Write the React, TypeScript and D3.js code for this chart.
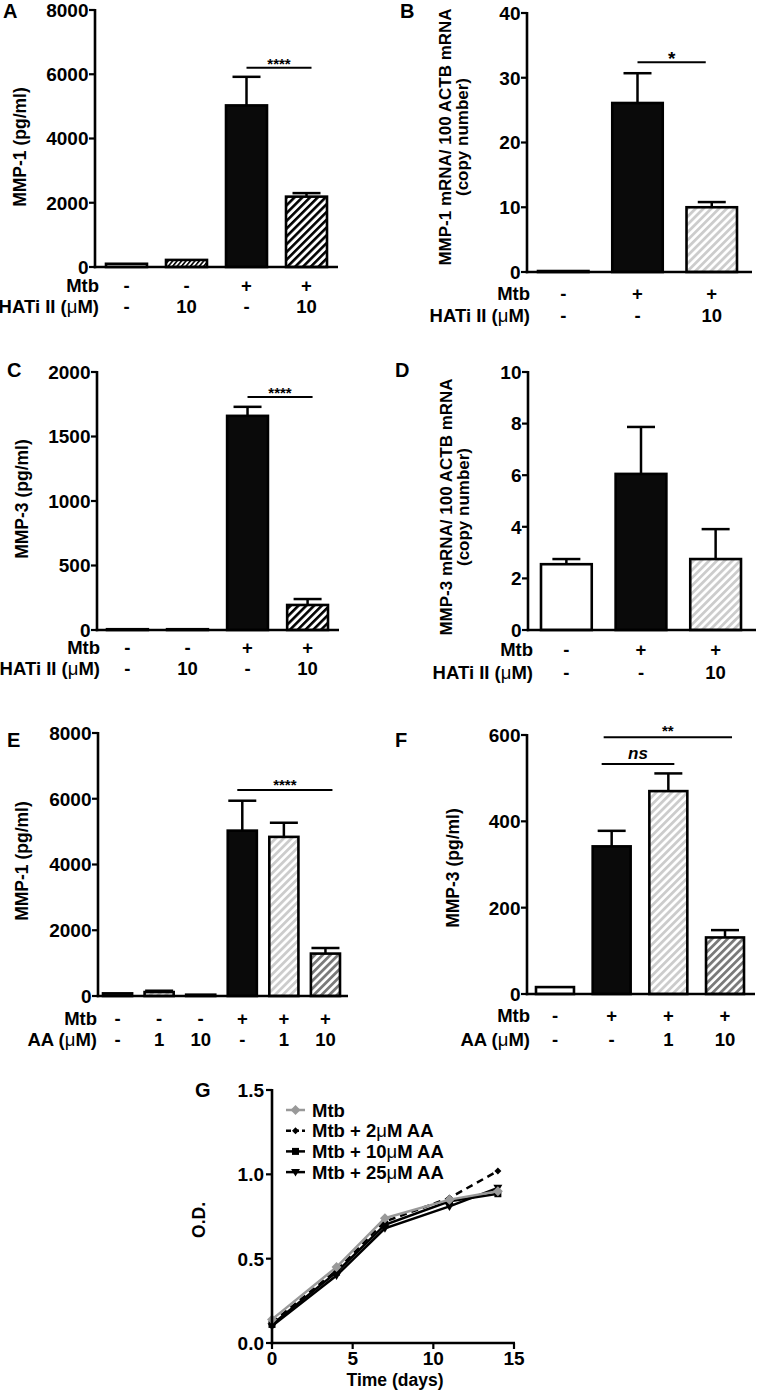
import React from "react";
import * as d3 from "d3";

const FONT = "'Liberation Sans', Arial, Helvetica, sans-serif";

// ---------- DATA ----------
// Panel A: MMP-1 secretion, HATi II
const aValues = [100, 220, 5030, 2190];
const aErrors = [0, 0, 890, 110];
const aFills = ["white", "url(#hatchFine)", "#0a0a0a", "url(#hatchBlack)"];
const aMtb = ["-", "-", "+", "+"];
const aDose = ["-", "10", "-", "10"];
const aTicks = [0, 2000, 4000, 6000, 8000];

// Panel B: MMP-1 mRNA
const bValues = [0.15, 26.1, 10.0];
const bErrors = [0, 4.6, 0.8];
const bFills = ["white", "#0a0a0a", "url(#hatchLight)"];
const bMtb = ["-", "+", "+"];
const bDose = ["-", "-", "10"];
const bTicks = [0, 10, 20, 30, 40];

// Panel C: MMP-3 secretion, HATi II
const cValues = [6, 6, 1660, 194];
const cErrors = [0, 0, 70, 46];
const cFills = ["white", "white", "#0a0a0a", "url(#hatchBlack)"];
const cMtb = ["-", "-", "+", "+"];
const cDose = ["-", "10", "-", "10"];
const cTicks = [0, 500, 1000, 1500, 2000];

// Panel D: MMP-3 mRNA
const dValues = [2.55, 6.05, 2.75];
const dErrors = [0.2, 1.82, 1.16];
const dFills = ["white", "#0a0a0a", "url(#hatchLight)"];
const dMtb = ["-", "+", "+"];
const dDose = ["-", "-", "10"];
const dTicks = [0, 2, 4, 6, 8, 10];

// Panel E: MMP-1 secretion, AA
const eValues = [80, 120, 40, 5030, 4840, 1290];
const eErrors = [0, 40, 0, 910, 430, 170];
const eFills = ["white", "url(#hatchLight)", "#0a0a0a", "#0a0a0a", "url(#hatchLight)", "url(#hatchDark)"];
const eMtb = ["-", "-", "-", "+", "+", "+"];
const eDose = ["-", "1", "10", "-", "1", "10"];
const eTicks = [0, 2000, 4000, 6000, 8000];

// Panel F: MMP-3 secretion, AA
const fValues = [16, 342, 470, 131];
const fErrors = [0, 36, 41, 17];
const fFills = ["white", "#0a0a0a", "url(#hatchLight)", "url(#hatchDark)"];
const fMtb = ["-", "+", "+", "+"];
const fDose = ["-", "-", "1", "10"];
const fTicks = [0, 200, 400, 600];

// Panel G: growth curves
const gDays = [0, 4, 7, 11, 14];
const gMtb = [0.14, 0.45, 0.74, 0.85, 0.9];
const gAA2 = [0.12, 0.43, 0.72, 0.86, 1.02];
const gAA10 = [0.11, 0.42, 0.7, 0.84, 0.885];
const gAA25 = [0.1, 0.4, 0.68, 0.81, 0.92];
const gSeriesNames = ["Mtb", "Mtb + 2\u03bcM AA", "Mtb + 10\u03bcM AA", "Mtb + 25\u03bcM AA"];
const gYTicks = [0, 0.5, 1.0, 1.5];
const gXTicks = [0, 5, 10, 15];

// ---------- COMPONENTS ----------
type Sig = { from: number; to: number; dx1: number; dx2: number; value: number; text: string; italic?: boolean; fs: number; textDy: number };

type PanelProps = {
  letter: string; letterX: number; letterY: number;
  axisX: number; axisEnd: number; y0: number; yTop: number; yMax: number;
  ticks: number[];
  values: number[]; errors: number[]; fills: string[];
  bandRange: [number, number]; padInner: number;
  mtb: string[]; dose: string[]; doseLabel: string;
  rowY: [number, number]; labelX: number;
  title: string[]; titleX: number[]; titleY: number; titleFs: number;
  sigs: Sig[];
};

function MuLabel({ text }: { text: string }) {
  const parts = text.split("\u03bc");
  if (parts.length === 1) return <>{text}</>;
  return (
    <>
      {parts[0]}
      <tspan fontWeight="normal">{"\u03bc"}</tspan>
      {parts[1]}
    </>
  );
}

function BarPanel(p: PanelProps) {
  const y = d3.scaleLinear().domain([0, p.yMax]).range([p.y0, p.yTop]);
  const idx = p.values.map((_, i) => i);
  const x = d3.scaleBand<number>().domain(idx).range(p.bandRange).paddingInner(p.padInner).paddingOuter(0);
  const bw = x.bandwidth();
  const cx = (i: number) => (x(i) as number) + bw / 2;
  const capHalf = 14;
  return (
    <g fontFamily={FONT} fontWeight="bold">
      <text x={p.letterX} y={p.letterY} fontSize={20}>{p.letter}</text>
      {p.values.map((v, i) => (
        <rect key={"b" + i} x={x(i)} y={y(v)} width={bw} height={p.y0 - y(v)} fill={p.fills[i]} stroke="#000" strokeWidth={2.6} />
      ))}
      {p.errors.map((e, i) =>
        e > 0 ? (
          <g key={"e" + i} stroke="#000" strokeWidth={2.5}>
            <line x1={cx(i)} x2={cx(i)} y1={y(p.values[i])} y2={y(p.values[i] + e)} />
            <line x1={cx(i) - capHalf} x2={cx(i) + capHalf} y1={y(p.values[i] + e)} y2={y(p.values[i] + e)} />
          </g>
        ) : null
      )}
      <line x1={p.axisX} x2={p.axisX} y1={p.y0 + 1.3} y2={y(p.yMax) - 1} stroke="#000" strokeWidth={2.6} />
      <line x1={p.axisX - 1.3} x2={p.axisEnd} y1={p.y0} y2={p.y0} stroke="#000" strokeWidth={2.6} />
      {p.ticks.map((t) => (
        <g key={"t" + t}>
          <line x1={p.axisX - 6} x2={p.axisX} y1={y(t)} y2={y(t)} stroke="#000" strokeWidth={2.2} />
          <text x={p.axisX - 6.5} y={y(t)} dy="0.36em" textAnchor="end" fontSize={19}>{t}</text>
        </g>
      ))}
      {p.title.map((line, k) => (
        <text key={"yt" + k} transform={`translate(${p.titleX[k]},${p.titleY}) rotate(-90)`} textAnchor="middle" fontSize={p.titleFs}>{line}</text>
      ))}
      <text x={p.labelX} y={p.rowY[0]} dy="0.36em" textAnchor="end" fontSize={18.5}>Mtb</text>
      <text x={p.labelX} y={p.rowY[1]} dy="0.36em" textAnchor="end" fontSize={18.5}><MuLabel text={p.doseLabel} /></text>
      {p.mtb.map((s, i) => (
        <text key={"m" + i} x={cx(i)} y={p.rowY[0]} dy="0.36em" textAnchor="middle" fontSize={18.5}>{s}</text>
      ))}
      {p.dose.map((s, i) => (
        <text key={"d" + i} x={cx(i)} y={p.rowY[1]} dy="0.36em" textAnchor="middle" fontSize={18.5}>{s}</text>
      ))}
      {p.sigs.map((s, k) => {
        const x1 = cx(s.from) + s.dx1;
        const x2 = cx(s.to) + s.dx2;
        const yy = y(s.value);
        return (
          <g key={"s" + k}>
            <line x1={x1} x2={x2} y1={yy} y2={yy} stroke="#000" strokeWidth={2} />
            <text x={(x1 + x2) / 2} y={yy + s.textDy} textAnchor="middle" fontSize={s.fs} fontStyle={s.italic ? "italic" : "normal"}>{s.text}</text>
          </g>
        );
      })}
    </g>
  );
}

function GrowthPanel() {
  const axisX = 272, y0 = 1343, yTop = 1090, xEnd = 514;
  const x = d3.scaleLinear().domain([0, 15]).range([axisX, xEnd]);
  const y = d3.scaleLinear().domain([0, 1.5]).range([y0, yTop]);
  const line = d3.line<number>().x((_, i) => x(gDays[i])).y((d) => y(d));
  const series = [
    { data: gAA25, color: "#000", dash: "", marker: "tri" },
    { data: gAA10, color: "#000", dash: "", marker: "sq" },
    { data: gAA2, color: "#000", dash: "7,5", marker: "smalldiamond" },
    { data: gMtb, color: "#999", dash: "", marker: "diamond" },
  ];
  const marker = (type: string, cxp: number, cyp: number, color: string, key: string) => {
    if (type === "diamond") return <path key={key} d={`M${cxp},${cyp - 5}L${cxp + 5},${cyp}L${cxp},${cyp + 5}L${cxp - 5},${cyp}Z`} fill={color} />;
    if (type === "smalldiamond") return <path key={key} d={`M${cxp},${cyp - 3.5}L${cxp + 3.5},${cyp}L${cxp},${cyp + 3.5}L${cxp - 3.5},${cyp}Z`} fill={color} />;
    if (type === "sq") return <rect key={key} x={cxp - 3.5} y={cyp - 3.5} width={7} height={7} fill={color} />;
    return <path key={key} d={`M${cxp - 4.5},${cyp - 3}L${cxp + 4.5},${cyp - 3}L${cxp},${cyp + 4.5}Z`} fill={color} />;
  };
  const legendOrder = [3, 2, 1, 0];
  return (
    <g fontFamily={FONT} fontWeight="bold">
      <text x={195} y={1097} fontSize={20}>G</text>
      {series.map((s, k) => (
        <g key={"g" + k}>
          <path d={line(s.data) || ""} fill="none" stroke={s.color} strokeWidth={2.5} strokeDasharray={s.dash} />
          {s.data.map((v, i) => marker(s.marker, x(gDays[i]), y(v), s.color, "mk" + k + "-" + i))}
        </g>
      ))}
      <line x1={axisX} x2={axisX} y1={y0 + 1.3} y2={yTop - 1} stroke="#000" strokeWidth={2.6} />
      <line x1={axisX - 1.3} x2={xEnd + 1} y1={y0} y2={y0} stroke="#000" strokeWidth={2.6} />
      {gYTicks.map((t) => (
        <g key={"gy" + t}>
          <line x1={axisX - 6} x2={axisX} y1={y(t)} y2={y(t)} stroke="#000" strokeWidth={2.2} />
          <text x={axisX - 8} y={y(t)} dy="0.36em" textAnchor="end" fontSize={19}>{t.toFixed(1)}</text>
        </g>
      ))}
      {gXTicks.map((t) => (
        <g key={"gx" + t}>
          <line x1={x(t)} x2={x(t)} y1={y0} y2={y0 + 6} stroke="#000" strokeWidth={2.2} />
          <text x={x(t)} y={1358} dy="0.36em" textAnchor="middle" fontSize={19}>{t}</text>
        </g>
      ))}
      <text x={395} y={1380} dy="0.36em" textAnchor="middle" fontSize={17.5}>Time (days)</text>
      <text transform={`translate(205,1220) rotate(-90)`} textAnchor="middle" fontSize={17.5}>O.D.</text>
      {legendOrder.map((si, r) => {
        const s = series[si];
        const ly = 1110 + r * 20.7;
        return (
          <g key={"lg" + r}>
            <line x1={286} x2={305} y1={ly} y2={ly} stroke={s.color} strokeWidth={2.5} strokeDasharray={s.dash ? "5,3" : ""} />
            {marker(s.marker, 295.5, ly, s.color, "lm" + r)}
            <text x={312} y={ly} dy="0.36em" fontSize={18.5}><MuLabel text={gSeriesNames[r]} /></text>
          </g>
        );
      })}
    </g>
  );
}

export default function App() {
  return (
    <div style={{ position: "absolute", left: 0, top: 0, background: "#fff" }}>
      <svg width={758} height={1391} viewBox="0 0 758 1391" style={{ display: "block" }}>
        <defs>
          <pattern id="hatchBlack" patternUnits="userSpaceOnUse" width={5.5} height={5.5} patternTransform="rotate(45)">
            <rect width={5.5} height={5.5} fill="#fff" />
            <rect width={2.6} height={5.5} fill="#000" />
          </pattern>
          <pattern id="hatchFine" patternUnits="userSpaceOnUse" width={3.4} height={3.4} patternTransform="rotate(40)">
            <rect width={3.4} height={3.4} fill="#fff" />
            <rect width={1.6} height={3.4} fill="#000" />
          </pattern>
          <pattern id="hatchLight" patternUnits="userSpaceOnUse" width={5.5} height={5.5} patternTransform="rotate(45)">
            <rect width={5.5} height={5.5} fill="#fff" />
            <rect width={2.8} height={5.5} fill="#cccccc" />
          </pattern>
          <pattern id="hatchDark" patternUnits="userSpaceOnUse" width={5.5} height={5.5} patternTransform="rotate(45)">
            <rect width={5.5} height={5.5} fill="#fff" />
            <rect width={2.8} height={5.5} fill="#7a7a7a" />
          </pattern>
        </defs>
        <rect width={758} height={1391} fill="#fff" />
        <BarPanel letter="A" letterX={3} letterY={18} axisX={95} axisEnd={338} y0={267} yTop={10} yMax={8000}
          ticks={aTicks} values={aValues} errors={aErrors} fills={aFills} bandRange={[106, 327]} padInner={0.317}
          mtb={aMtb} dose={aDose} doseLabel={"HATi II (\u03bcM)"} rowY={[285, 306]} labelX={99}
          title={["MMP-1 (pg/ml)"]} titleX={[26]} titleY={147} titleFs={17.5}
          sigs={[{ from: 2, to: 3, dx1: 0, dx2: 5, value: 6200, text: "****", fs: 15, textDy: 1 }]} />
        <BarPanel letter="B" letterX={400} letterY={18} axisX={527} axisEnd={752} y0={272} yTop={13} yMax={40}
          ticks={bTicks} values={bValues} errors={bErrors} fills={bFills} bandRange={[538, 737]} padInner={0.32}
          mtb={bMtb} dose={bDose} doseLabel={"HATi II (\u03bcM)"} rowY={[293, 315]} labelX={530}
          title={["MMP-1 mRNA/ 100 ACTB mRNA", "(copy number)"]} titleX={[451, 468]} titleY={137} titleFs={17}
          sigs={[{ from: 1, to: 2, dx1: 0, dx2: -6, value: 32.4, text: "*", fs: 19, textDy: 3 }]} />
        <BarPanel letter="C" letterX={7} letterY={377} axisX={97} axisEnd={339} y0={630} yTop={372} yMax={2000}
          ticks={cTicks} values={cValues} errors={cErrors} fills={cFills} bandRange={[107, 328]} padInner={0.32}
          mtb={cMtb} dose={cDose} doseLabel={"HATi II (\u03bcM)"} rowY={[647, 668]} labelX={100}
          title={["MMP-3 (pg/ml)"]} titleX={[28]} titleY={499} titleFs={17.5}
          sigs={[{ from: 2, to: 3, dx1: 0, dx2: 5, value: 1806, text: "****", fs: 15, textDy: 1 }]} />
        <BarPanel letter="D" letterX={395} letterY={377} axisX={528} axisEnd={756} y0={630} yTop={372} yMax={10}
          ticks={dTicks} values={dValues} errors={dErrors} fills={dFills} bandRange={[541, 741]} padInner={0.32}
          mtb={dMtb} dose={dDose} doseLabel={"HATi II (\u03bcM)"} rowY={[649, 672]} labelX={533}
          title={["MMP-3 mRNA/ 100 ACTB mRNA", "(copy number)"]} titleX={[452, 469]} titleY={507} titleFs={17}
          sigs={[]} />
        <BarPanel letter="E" letterX={7} letterY={747} axisX={98} axisEnd={348} y0={996} yTop={733} yMax={8000}
          ticks={eTicks} values={eValues} errors={eErrors} fills={eFills} bandRange={[103, 340]} padInner={0.3}
          mtb={eMtb} dose={eDose} doseLabel={"AA (\u03bcM)"} rowY={[1018, 1039]} labelX={97}
          title={["MMP-1 (pg/ml)"]} titleX={[28]} titleY={861} titleFs={17.5}
          sigs={[{ from: 3, to: 5, dx1: -5, dx2: 7, value: 6266, text: "****", fs: 15, textDy: 0 }]} />
        <BarPanel letter="F" letterX={395} letterY={747} axisX={527} axisEnd={755} y0={994} yTop={735} yMax={600}
          ticks={fTicks} values={fValues} errors={fErrors} fills={fFills} bandRange={[536, 744]} padInner={0.33}
          mtb={fMtb} dose={fDose} doseLabel={"AA (\u03bcM)"} rowY={[1015, 1039]} labelX={530}
          title={["MMP-3 (pg/ml)"]} titleX={[459]} titleY={868} titleFs={17.5}
          sigs={[
            { from: 1, to: 3, dx1: -8, dx2: 7, value: 595, text: "**", fs: 15, textDy: -1 },
            { from: 1, to: 2, dx1: -10, dx2: 6, value: 533, text: "ns", italic: true, fs: 17, textDy: -5 },
          ]} />
        <GrowthPanel />
      </svg>
    </div>
  );
}
